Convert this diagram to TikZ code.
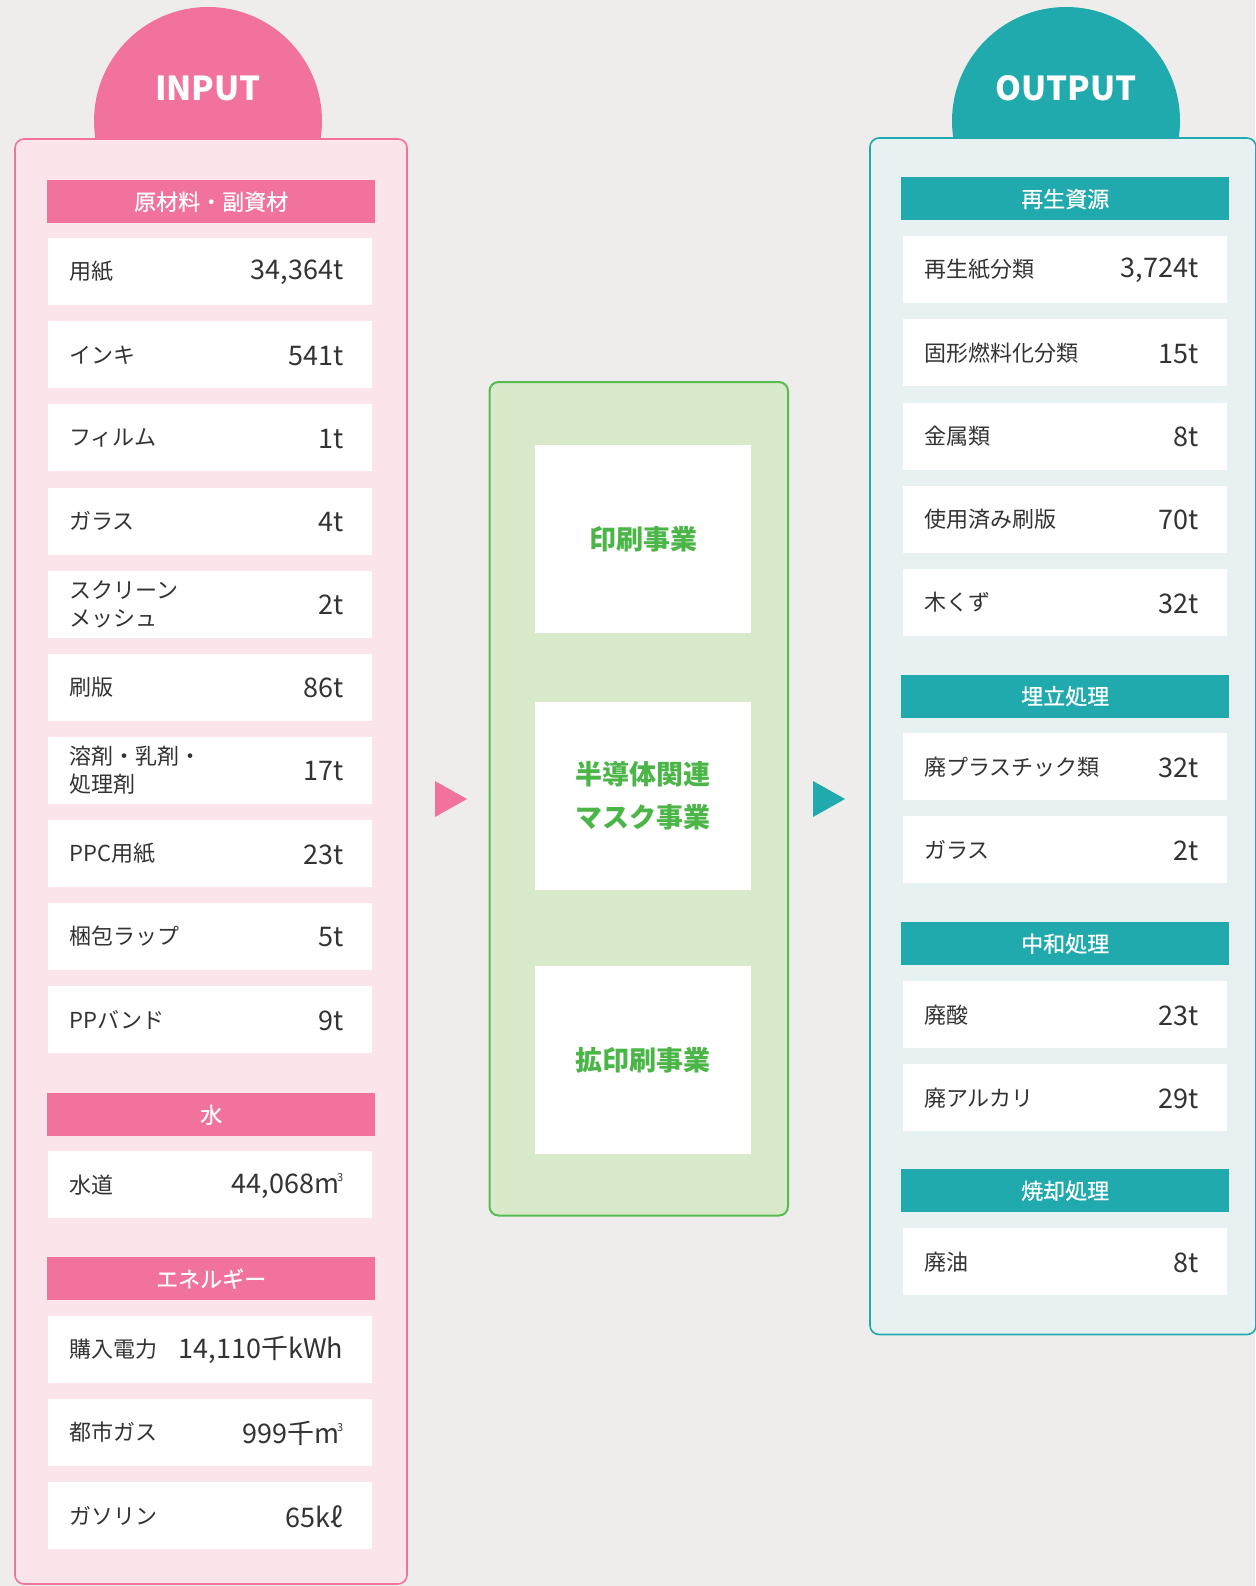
\documentclass[tikz,border=0pt]{standalone}
\usepackage{fontspec}
\setmainfont{Noto Sans CJK JP}
\newfontfamily\hdrfont[FakeBold=0.6]{Noto Sans CJK JP}
\definecolor{bgc}{HTML}{EEEDEB}
\definecolor{pinkc}{HTML}{F0729D}
\definecolor{pinkl}{HTML}{FBE4EA}
\definecolor{tealc}{HTML}{21AAAD}
\definecolor{teall}{HTML}{E8F1F2}
\definecolor{greenb}{HTML}{56BB50}
\definecolor{greenl}{HTML}{D9EACB}
\definecolor{greent}{HTML}{4CB548}
\definecolor{txt}{HTML}{333333}
\newcommand\cubic{m\kern-2pt\raisebox{0.45em}{\fontsize{11}{11}\selectfont 3}}
\newcommand\rowitem[5]{%
  \node[rowbox] (#1) at (#2,#3) {};
  \node[lbl] (#1l) at ([xshift=21pt]#1.west) {#4};
  \node[val] (#1v) at ([xshift=-29pt,yshift=-1pt]#1.east) {#5};}
\begin{document}
\begin{tikzpicture}[x=1pt,y=-1pt,
  rowbox/.style={fill=white, minimum width=324pt, minimum height=67pt, inner sep=0pt, anchor=north west},
  hdrbox/.style={minimum width=328pt, minimum height=43pt, inner sep=0pt, anchor=north west, text=white, font=\fontsize{22}{26}\hdrfont},
  lbl/.style={anchor=west, text=txt, inner sep=0pt, align=left, font=\fontsize{22}{28}\selectfont},
  val/.style={anchor=east, text=txt, inner sep=0pt, font=\fontsize{27}{30}\selectfont},
  bigtitle/.style={text=white, inner sep=0pt, font=\fontsize{33}{36}\selectfont\bfseries},
  whitebox/.style={fill=white, minimum width=216pt, minimum height=188pt, inner sep=0pt, anchor=north west},
  biztext/.style={text=greent, inner sep=0pt, align=center, font=\fontsize{27}{43}\selectfont\bfseries}
]
\useasboundingbox (0,0) rectangle (1255,1586);
\fill[bgc] (0,0) rectangle (1255,1586);

% ---------- INPUT ----------
\node[circle, fill=pinkc, minimum size=228pt, inner sep=0pt] (incirc) at (208,121) {};
\node[bigtitle] (intitle) at (208,88) {INPUT};
\draw[pinkc, fill=pinkl, line width=1.6pt, rounded corners=9pt] (15,139) rectangle (407,1584);

\node[hdrbox, fill=pinkc] (ih1) at (47,180) {原材料・副資材};
\rowitem{i1}{48}{238}{用紙}{34,364t}
\rowitem{i2}{48}{321.1}{インキ}{541t}
\rowitem{i3}{48}{404.2}{フィルム}{1t}
\rowitem{i4}{48}{487.3}{ガラス}{4t}
\rowitem{i5}{48}{570.4}{スクリーン\\メッシュ}{2t}
\rowitem{i6}{48}{653.5}{刷版}{86t}
\rowitem{i7}{48}{736.6}{溶剤・乳剤・\\処理剤}{17t}
\rowitem{i8}{48}{819.7}{PPC用紙}{23t}
\rowitem{i9}{48}{902.8}{梱包ラップ}{5t}
\rowitem{i10}{48}{985.9}{PPバンド}{9t}

\node[hdrbox, fill=pinkc] (ih2) at (47,1093) {水};
\rowitem{i11}{48}{1151}{水道}{44,068\cubic}

\node[hdrbox, fill=pinkc] (ih3) at (47,1257) {エネルギー};
\rowitem{i12}{48}{1315.3}{購入電力}{14,110千kWh}
\rowitem{i13}{48}{1398.7}{都市ガス}{999千\cubic}
\rowitem{i14}{48}{1482}{ガソリン}{65kℓ}

% ---------- arrows ----------
\fill[pinkc] (435,781) -- (467,799) -- (435,817) -- cycle;
\fill[tealc] (813,781) -- (845,799) -- (813,817) -- cycle;

% ---------- CENTER ----------
\draw[greenb, fill=greenl, line width=2pt, rounded corners=9pt] (489.5,382) rectangle (788,1215.5);
\node[whitebox] (b1) at (535,445) {};
\node[biztext] (b1t) at (b1.center) {印刷事業};
\node[whitebox] (b2) at (535,702) {};
\node[biztext] (b2t) at (b2.center) {半導体関連\\マスク事業};
\node[whitebox] (b3) at (535,966) {};
\node[biztext] (b3t) at (b3.center) {拡印刷事業};

% ---------- OUTPUT ----------
\node[circle, fill=tealc, minimum size=228pt, inner sep=0pt] (outcirc) at (1066,121) {};
\node[bigtitle] (outtitle) at (1066,88) {OUTPUT};
\draw[tealc, fill=teall, line width=1.6pt, rounded corners=9pt] (870,138) rectangle (1256,1334.5);

\node[hdrbox, fill=tealc] (oh1) at (901,177.3) {再生資源};
\rowitem{o1}{903}{236}{再生紙分類}{3,724t}
\rowitem{o2}{903}{319.2}{固形燃料化分類}{15t}
\rowitem{o3}{903}{402.4}{金属類}{8t}
\rowitem{o4}{903}{485.6}{使用済み刷版}{70t}
\rowitem{o5}{903}{568.8}{木くず}{32t}

\node[hdrbox, fill=tealc] (oh2) at (901,674.5) {埋立処理};
\rowitem{o6}{903}{733}{廃プラスチック類}{32t}
\rowitem{o7}{903}{816}{ガラス}{2t}

\node[hdrbox, fill=tealc] (oh3) at (901,922) {中和処理};
\rowitem{o8}{903}{981}{廃酸}{23t}
\rowitem{o9}{903}{1064}{廃アルカリ}{29t}

\node[hdrbox, fill=tealc] (oh4) at (901,1169) {焼却処理};
\rowitem{o10}{903}{1228}{廃油}{8t}
\end{tikzpicture}
\end{document}
